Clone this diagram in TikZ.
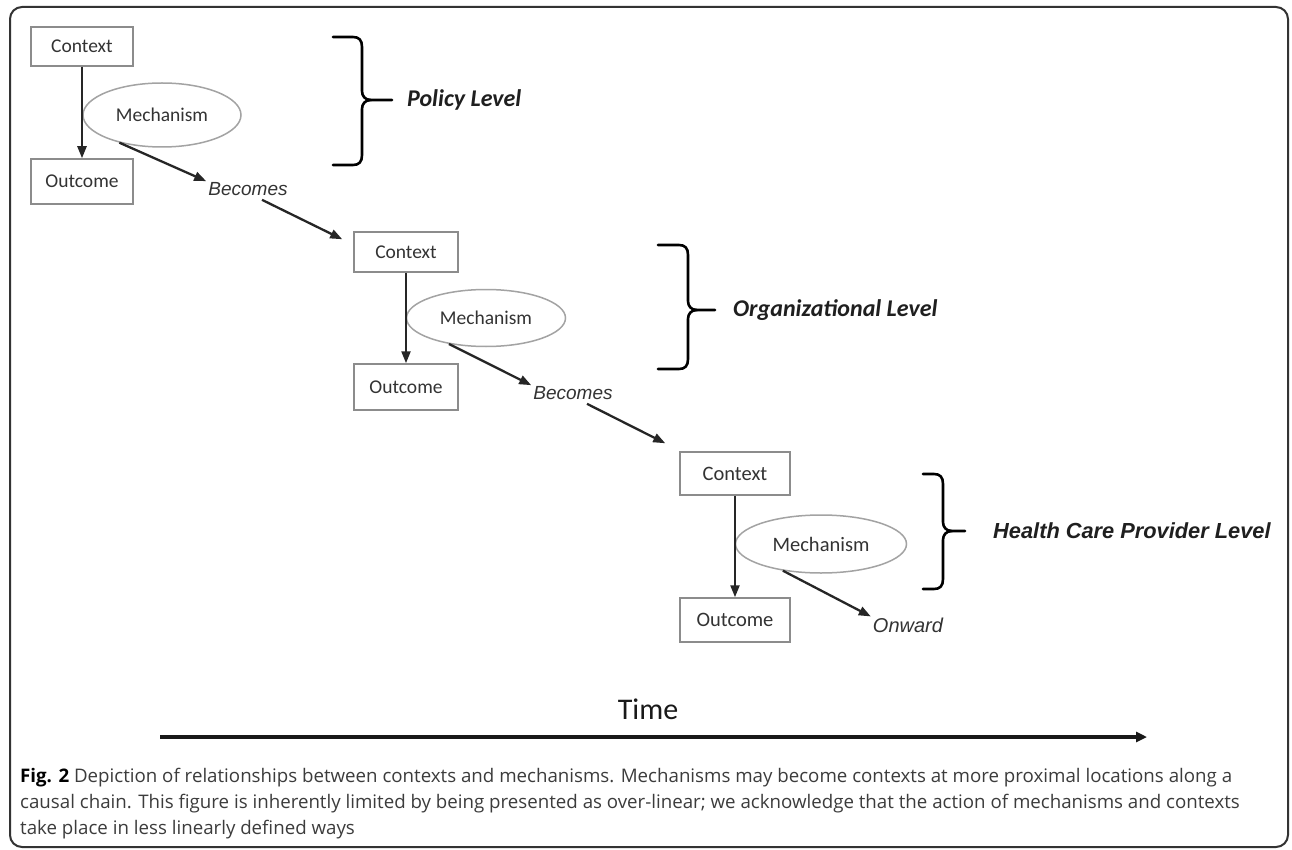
\documentclass[tikz,border=0pt]{standalone}
\usepackage{fontspec}
\usetikzlibrary{arrows.meta,shapes.geometric}
\setmainfont{Carlito}
\newfontfamily\arialf{Liberation Sans}
\newfontfamily\capf{Open Sans}
\definecolor{boxgray}{HTML}{8C8C8C}
\definecolor{ellgray}{HTML}{A3A3A3}
\definecolor{txtgray}{HTML}{333333}
\definecolor{arrowgray}{HTML}{262626}
\definecolor{capgray}{HTML}{3C3C3C}
\newcommand\levelbrace[6]{%
 \draw[brace] (#1,#4) -- ({#2-9},#4) .. controls ({#2-3},#4) and (#2,{#4+3}) .. (#2,{#4+10}) -- (#2,{#5-9}) .. controls (#2,{#5-4}) and ({#2+3},#5) .. ({#2+9},#5) -- (#3,#5);
 \draw[brace] ({#2+9},#5) .. controls ({#2+3},#5) and (#2,{#5+4}) .. (#2,{#5+9}) -- (#2,{#6-10}) .. controls (#2,{#6-3}) and ({#2-3},#6) .. ({#2-9},#6) -- (#1,#6);}
\begin{document}
\begin{tikzpicture}[x=1pt,y=-1pt,
 box/.style={draw=boxgray,line width=1.5pt,rectangle,inner sep=0pt,font=\fontsize{19.5}{22}\selectfont,text=txtgray},
 mech/.style={draw=ellgray,line width=1.5pt,ellipse,inner sep=0pt,font=\fontsize{19.5}{22}\selectfont,text=txtgray},
 flow/.style={draw=arrowgray,line width=2.3pt,-{Triangle[length=12pt,width=9pt]}},
 wordlab/.style={font=\arialf\itshape\fontsize{19}{22}\selectfont,text=txtgray,inner sep=0pt},
 brace/.style={draw=black,line width=2.6pt,line join=round,line cap=round},
 level/.style={font=\bfseries\itshape\fontsize{24}{26}\selectfont,text=black!88,anchor=west,inner sep=0pt},
 capline/.style={font=\capf\fontsize{18.7}{22}\selectfont,text=capgray,anchor=base west,inner sep=0pt},
]
\useasboundingbox (0,0) rectangle (1292,850);
\fill[white] (0,0) rectangle (1292,850);
\draw[rounded corners=12pt,line width=2pt,draw=black!80] (10,7) rectangle (1288,847);

% level 1
\node[box,minimum width=102pt,minimum height=39pt] (c1) at (82,46.5) {Context};
\node[box,minimum width=102pt,minimum height=45pt] (o1) at (82,181.5) {Outcome};
\node[mech,minimum width=158pt,minimum height=64pt] (m1) at (162,115) {Mechanism};
\node[wordlab] (b1) at (248,189) {Becomes};
% level 2
\node[box,minimum width=104pt,minimum height=40pt] (c2) at (406,252) {Context};
\node[box,minimum width=104pt,minimum height=46pt] (o2) at (406,387) {Outcome};
\node[mech,minimum width=159pt,minimum height=57pt] (m2) at (486,318) {Mechanism};
\node[wordlab] (b2) at (573,393) {Becomes};
% level 3
\node[box,minimum width=110pt,minimum height=43pt,font=\fontsize{20.5}{22}\selectfont] (c3) at (735,473.5) {Context};
\node[box,minimum width=110pt,minimum height=44pt,font=\fontsize{20.5}{22}\selectfont] (o3) at (735,620) {Outcome};
\node[mech,minimum width=171pt,minimum height=58pt,font=\fontsize{20.5}{22}\selectfont] (m3) at (821,544) {Mechanism};
\node[wordlab,font=\arialf\itshape\fontsize{20}{22}\selectfont] (on) at (908,625) {Onward};

% connectors
\draw[flow] (c1.south) -- (o1.north);
\draw[flow] (m1.-147) -- ([xshift=-2pt,yshift=1pt]b1.north west);
\draw[flow] ([xshift=14pt,yshift=-4pt]b1.south) -- ([xshift=-11pt,yshift=-8pt]c2.north west);
\draw[flow] (c2.south) -- (o2.north);
\draw[flow] (m2.-145) -- ([xshift=-2pt,yshift=1pt]b2.north west);
\draw[flow] ([xshift=14pt,yshift=-4pt]b2.south) -- ([xshift=-14pt,yshift=8pt]c3.north west);
\draw[flow] (c3.south) -- (o3.north);
\draw[flow] (m3.-145) -- ([xshift=-2pt,yshift=1pt]on.north west);

% braces and level labels
\levelbrace{333}{362}{392}{37}{100}{165}
\levelbrace{658}{688}{715}{245}{310}{369}
\levelbrace{923}{943}{965}{474}{531}{589}
\node[level] (pl) at (407,100) {Policy Level};
\node[level] (ol) at (733,310) {Organizational Level};
\node[level,font=\arialf\bfseries\itshape\fontsize{21.8}{24}\selectfont] (hl) at (993,531) {Health Care Provider Level};

% time axis
\node[font=\fontsize{30}{32}\selectfont,text=black!90,anchor=base,inner sep=0pt] (time) at (648,719) {Time};
\coordinate (t0) at (160,737);
\coordinate (t1) at (1147,737);
\draw[line width=3.5pt,draw=black!90,-{Triangle[length=11pt,width=10pt]}] (t0) -- (t1);

% caption
\node[capline] (cap1) at (20,782) {{\color{black}\bfseries Fig. 2} Depiction of relationships between contexts and mechanisms. Mechanisms may become contexts at more proximal locations along a};
\node[capline] (cap2) at (20,808) {causal chain. This figure is inherently limited by being presented as over-linear; we acknowledge that the action of mechanisms and contexts};
\node[capline] (cap3) at (20,834) {take place in less linearly defined ways};
\end{tikzpicture}
\end{document}
